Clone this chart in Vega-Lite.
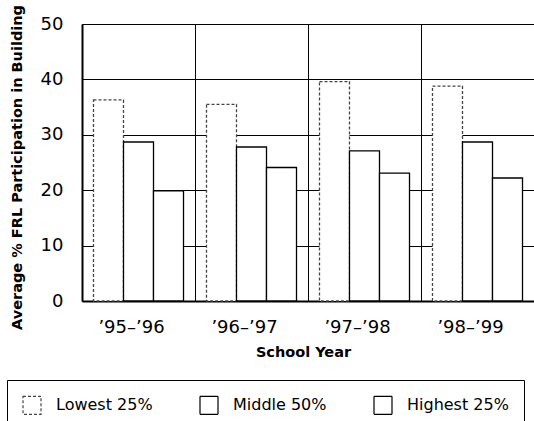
{
  "$schema": "https://vega.github.io/schema/vega-lite/v6.json",
  "width": 452,
  "height": 277,
  "autosize": {"type": "none"},
  "padding": {"left": 82, "top": 24, "right": 0, "bottom": 120},
  "background": "white",
  "config": {
    "view": {"stroke": null},
    "font": "DejaVu Sans",
    "legend": {
      "orient": "none",
      "legendX": -75,
      "legendY": 356,
      "direction": "horizontal",
      "strokeColor": "black",
      "padding": 15,
      "symbolType": "square",
      "symbolSize": 324,
      "symbolStrokeWidth": 1.2,
      "labelFontSize": 16,
      "labelFont": "DejaVu Sans",
      "labelColor": "black",
      "labelOffset": 14,
      "columnPadding": 44,
      "labelLimit": 200
    }
  },
  "data": {
    "values": [
      {"year": "’95–’96", "series": "Lowest 25%", "value": 36.3},
      {"year": "’95–’96", "series": "Middle 50%", "value": 28.7},
      {"year": "’95–’96", "series": "Highest 25%", "value": 19.9},
      {"year": "’96–’97", "series": "Lowest 25%", "value": 35.5},
      {"year": "’96–’97", "series": "Middle 50%", "value": 27.8},
      {"year": "’96–’97", "series": "Highest 25%", "value": 24.1},
      {"year": "’97–’98", "series": "Lowest 25%", "value": 39.6},
      {"year": "’97–’98", "series": "Middle 50%", "value": 27.1},
      {"year": "’97–’98", "series": "Highest 25%", "value": 23.1},
      {"year": "’98–’99", "series": "Lowest 25%", "value": 38.8},
      {"year": "’98–’99", "series": "Middle 50%", "value": 28.7},
      {"year": "’98–’99", "series": "Highest 25%", "value": 22.2}
    ]
  },
  "mark": {"type": "bar", "strokeWidth": 1.3},
  "encoding": {
    "x": {
      "field": "year",
      "type": "nominal",
      "sort": null,
      "scale": {"paddingInner": 0, "paddingOuter": 0},
      "axis": {
        "title": "School Year",
        "grid": true,
        "gridColor": "black",
        "gridOpacity": 1,
        "gridWidth": 1,
        "bandPosition": 0,
        "labelOffset": -7,
        "ticks": false,
        "domainColor": "black",
        "domainWidth": 2,
        "labelAngle": 0,
        "labelFontSize": 18,
        "labelColor": "black",
        "labelPadding": 17,
        "titleFontSize": 14.5,
        "titleFontWeight": "bold",
        "titleColor": "black",
        "titleX": 221,
        "titleY": 51,
        "titleBaseline": "middle",
        "titleAlign": "center"
      }
    },
    "xOffset": {
      "field": "series",
      "type": "nominal",
      "sort": null,
      "scale": {"paddingOuter": 0.383, "paddingInner": 0}
    },
    "y": {
      "field": "value",
      "type": "quantitative",
      "scale": {"domain": [0, 50], "nice": false},
      "axis": {
        "title": "Average % FRL Participation in Building",
        "values": [0, 10, 20, 30, 40, 50],
        "grid": true,
        "gridColor": "black",
        "gridOpacity": 1,
        "gridWidth": 1,
        "ticks": false,
        "domainColor": "black",
        "domainWidth": 2,
        "labelFontSize": 18,
        "labelColor": "black",
        "labelPadding": 19,
        "titleFontSize": 14.5,
        "titleFontWeight": "bold",
        "titleColor": "black",
        "titleAngle": -90,
        "titleX": -65,
        "titleY": 143,
        "titleBaseline": "middle",
        "titleAlign": "center"
      }
    },
    "fill": {
      "field": "series",
      "type": "nominal",
      "sort": null,
      "scale": {
        "domain": ["Lowest 25%", "Middle 50%", "Highest 25%"],
        "range": ["white", "white", "white"]
      },
      "legend": {"title": null}
    },
    "stroke": {
      "field": "series",
      "type": "nominal",
      "sort": null,
      "scale": {
        "domain": ["Lowest 25%", "Middle 50%", "Highest 25%"],
        "range": ["#444444", "black", "black"]
      },
      "legend": {"title": null}
    },
    "strokeDash": {
      "field": "series",
      "type": "nominal",
      "sort": null,
      "scale": {
        "domain": ["Lowest 25%", "Middle 50%", "Highest 25%"],
        "range": [[3, 2], [1, 0], [1, 0]]
      },
      "legend": {"title": null}
    }
  }
}
